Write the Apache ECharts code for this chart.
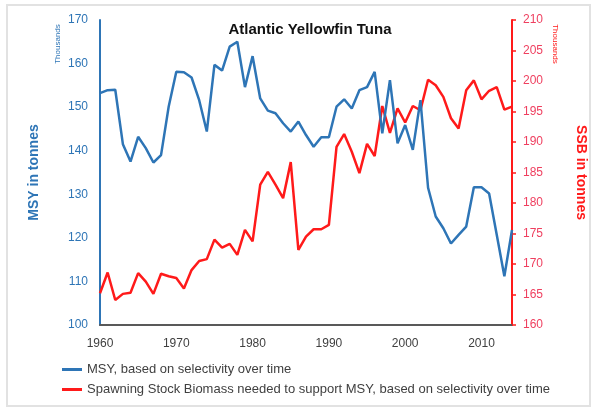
<!DOCTYPE html>
<html>
<head>
<meta charset="utf-8">
<script src="https://cdn.jsdelivr.net/npm/echarts@6/dist/echarts.min.js"></script>
<style>
html,body{margin:0;padding:0;background:#fff;}
#c{width:597px;height:408px;}
</style>
</head>
<body>
<div id="c"></div>
<script>
const years = [];
for (let y = 1960; y <= 2014; y++) years.push(y);

const msy = [153.2,153.9,154.0,141.5,137.5,143.2,140.6,137.3,139.0,150.1,
             158.1,158.0,156.8,151.6,144.4,159.7,158.4,163.9,165.0,154.6,
             161.7,152.0,149.2,148.6,146.3,144.4,146.7,143.6,140.9,143.1,
             143.1,150.1,151.8,149.7,153.9,154.6,158.1,144.0,156.2,141.7,
             145.9,140.2,151.6,131.5,124.9,122.2,118.7,120.7,122.6,131.6,
             131.6,130.2,120.7,111.2,121.8];

const ssb = [165.2,168.6,164.1,165.1,165.3,168.5,167.1,165.1,168.4,168.0,
             167.7,166.0,169.0,170.5,170.8,174.0,172.7,173.3,171.5,175.6,
             173.7,183.0,185.1,183.0,180.8,186.7,172.3,174.5,175.7,175.7,
             176.4,189.2,191.3,188.4,184.9,189.7,187.7,195.9,191.5,195.5,
             193.2,195.9,195.2,200.2,199.3,197.4,193.9,192.2,198.5,200.1,
             197.0,198.4,199.0,195.3,195.8];

const xTicks = [1960, 1970, 1980, 1990, 2000, 2010];
const titleText = 'Atlantic Yellowfin Tuna';
const seriesNames = ['MSY, based on selectivity over time',
  'Spawning Stock Biomass needed to support MSY, based on selectivity over time'];

const BLUE = '#2e75b6', RED = '#ff1a1a', LABELRED = '#ef3f5f';
const FONT = '"Liberation Sans", Arial, sans-serif';

const chart = echarts.init(document.getElementById('c'), null, {renderer: 'canvas'});
chart.setOption({
  backgroundColor: '#fff',
  animation: false,
  textStyle: {fontFamily: FONT},
  title: {
    text: titleText, left: 305, top: 17, textAlign: 'center',
    textStyle: {fontSize: 15, fontWeight: 'bold', color: '#111', fontFamily: FONT}
  },
  grid: {left: 100, right: 85, top: 20, bottom: 83, containLabel: false},
  legend: {
    orient: 'vertical', left: 57, top: 358, itemGap: 7,
    itemWidth: 20, itemHeight: 3, icon: 'rect',
    textStyle: {fontSize: 13, color: '#404040', fontFamily: FONT},
    data: seriesNames
  },
  xAxis: {
    type: 'value', min: 1960, max: 2014, interval: 10,
    axisLine: {show: true, lineStyle: {color: '#595959', width: 2}},
    axisTick: {show: false}, splitLine: {show: false},
    axisLabel: {color: '#404040', fontSize: 12, margin: 13,
      formatter: v => xTicks.includes(v) ? String(v) : ''}
  },
  yAxis: [{
    type: 'value', min: 100, max: 170, interval: 10, position: 'left',
    name: 'MSY in tonnes', nameLocation: 'middle', nameGap: 59, nameRotate: 90,
    nameTextStyle: {color: BLUE, fontSize: 14, fontWeight: 'bold', fontFamily: FONT},
    axisLine: {show: true, lineStyle: {color: BLUE, width: 2}},
    axisTick: {show: false}, splitLine: {show: false},
    axisLabel: {color: BLUE, fontSize: 12, margin: 12}
  }, {
    type: 'value', min: 160, max: 210, interval: 5, position: 'right',
    name: 'SSB in tonnes', nameLocation: 'middle', nameGap: 62, nameRotate: -90,
    nameTextStyle: {color: RED, fontSize: 14, fontWeight: 'bold', fontFamily: FONT},
    axisLine: {show: true, lineStyle: {color: RED, width: 2}},
    axisTick: {show: true, inside: false, length: 4, lineStyle: {color: RED, width: 1.5}},
    splitLine: {show: false},
    axisLabel: {color: LABELRED, fontSize: 12, margin: 11}
  }],
  graphic: [
    {type: 'rect', silent: true, z: -10, shape: {x: 7, y: 5, width: 583, height: 401},
     style: {fill: 'none', stroke: '#e2e2e2', lineWidth: 2}},
    {type: 'text', x: 58, y: 44, rotation: Math.PI / 2,
     style: {text: 'Thousands', fill: BLUE, font: '8px ' + FONT, textAlign: 'center', textVerticalAlign: 'middle'}},
    {type: 'text', x: 555, y: 44, rotation: -Math.PI / 2,
     style: {text: 'Thousands', fill: RED, font: '8px ' + FONT, textAlign: 'center', textVerticalAlign: 'middle'}}
  ],
  series: [{
    name: seriesNames[0], type: 'line', yAxisIndex: 0, showSymbol: false,
    lineStyle: {color: BLUE, width: 2.5}, itemStyle: {color: BLUE},
    data: years.map((y, i) => [y, msy[i]]), z: 3
  }, {
    name: seriesNames[1], type: 'line', yAxisIndex: 1, showSymbol: false,
    lineStyle: {color: RED, width: 2.5}, itemStyle: {color: RED},
    data: years.map((y, i) => [y, ssb[i]]), z: 2
  }]
});
</script>
</body>
</html>
